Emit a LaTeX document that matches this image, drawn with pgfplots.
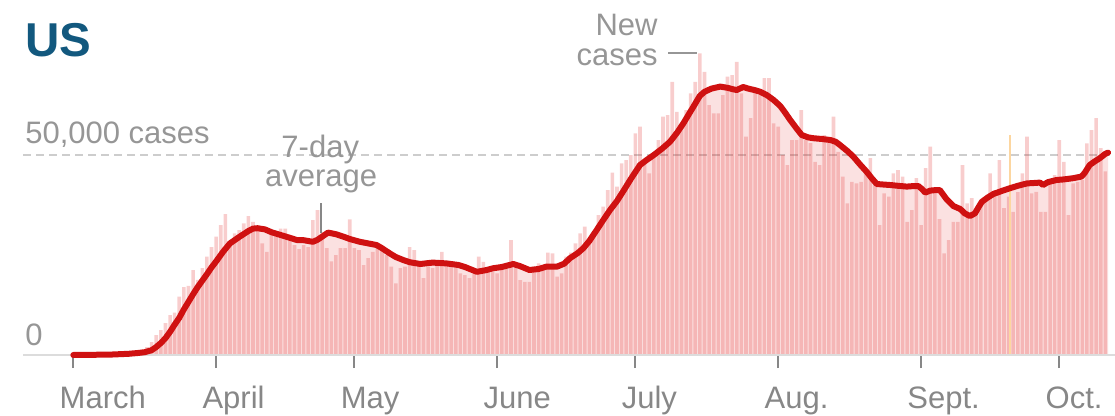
\documentclass[border=0pt]{standalone}
\usepackage{fontspec}
\setmainfont{Liberation Sans}
\usepackage{pgfplots}
\usepackage{pgfplotstable}
\pgfplotsset{compat=1.18}
\definecolor{nytred}{RGB}{207,17,17}
\definecolor{barpink}{RGB}{225,40,40}
\definecolor{txtgrey}{RGB}{150,150,150}
\definecolor{tickgrey}{RGB}{135,135,135}
\definecolor{titleblue}{RGB}{18,88,126}
\definecolor{gridgrey}{RGB}{205,205,205}
\definecolor{basegrey}{RGB}{220,220,220}
\definecolor{hilite}{RGB}{252,214,160}

% daily new cases, day 0 = March 1
\pgfplotstableread{
d cases
0 20
1 20
2 30
3 30
4 50
5 70
6 100
7 100
8 150
9 200
10 300
11 400
12 500
13 700
14 900
15 1300
16 2000
17 3200
18 5000
19 6200
20 8000
21 10000
22 10600
23 14600
24 17000
25 17300
26 21200
27 18800
28 21700
29 24600
30 27000
31 29600
32 32500
33 35200
34 27500
35 30400
36 31200
37 32900
38 34700
39 33300
40 31200
41 27900
42 25800
43 30400
44 30000
45 31600
46 31600
47 29100
48 27500
49 26500
50 27500
51 27000
52 33700
53 36200
54 30800
55 26700
56 23400
57 25000
58 26700
59 26700
60 33900
61 26700
62 26200
63 22500
64 24200
65 25800
66 27900
67 26700
68 25000
69 22100
70 17900
71 21700
72 22100
73 27000
74 26200
75 23400
76 19200
77 22100
78 21700
79 23400
80 25800
81 23400
82 22500
83 22100
84 20400
85 20000
86 19200
87 20400
88 24600
89 23300
90 21200
91 20800
92 20400
93 22100
94 21700
95 28700
96 22500
97 18700
98 18300
99 18300
100 22100
101 22900
102 22100
103 25600
104 25400
105 19600
106 20400
107 24600
108 25600
109 27900
110 30400
111 32100
112 28700
113 30400
114 35000
115 37100
116 41200
117 45600
118 42100
119 47900
120 48700
121 50000
122 55400
123 57100
124 48700
125 45400
126 50000
127 53700
128 59600
129 60000
130 68300
131 60800
132 57100
133 61200
134 65400
135 68300
136 75400
137 70800
138 62500
139 60400
140 60400
141 65000
142 69600
143 70000
144 73300
145 65400
146 54600
147 59200
148 66200
149 65000
150 69200
151 69200
152 57900
153 57100
154 50000
155 47500
156 53700
157 53700
158 61200
159 53700
160 53000
161 48300
162 47500
163 55000
164 53300
165 59600
166 50800
167 44600
168 37900
169 43300
170 42900
171 43300
172 45400
173 49200
174 43300
175 32500
176 40400
177 39600
178 45400
179 46200
180 44600
181 33300
182 36200
183 44200
184 32500
185 46700
186 52100
187 41200
188 34000
189 25400
190 28700
191 33300
192 33300
193 47500
194 37900
195 39200
196 35400
197 38700
198 39600
199 45400
200 41200
201 48700
202 36700
203 39600
204 35800
205 40700
206 45400
207 54600
208 40400
209 40800
210 35800
211 35800
212 43300
213 45000
214 53700
215 48300
216 35000
217 42900
218 43300
219 43700
220 52900
221 56200
222 59200
223 51700
224 45900
}\dailytab

% 7-day average
\pgfplotstableread{
d avg
0 0
8 100
12 300
14 500
15.5 700
17 1200
18 2000
19 3000
20 4200
21 5800
22 7600
23 9300
24 11400
25 13300
26 15200
27 17000
28 18600
29 20200
30 21900
31 23400
32.5 25800
34 27900
36 29500
38 31000
39 31600
40 31700
41.6 31400
43 30700
45 30000
47 29300
48.5 28750
50 28700
52 28300
53 28800
55.3 30600
57 30200
58.6 29600
60 29000
62.2 28300
64 27900
65.8 27500
67 26700
68.7 25400
70 24500
71.6 23750
73 23200
75.3 22750
78 23100
81 22900
83.6 22500
85 22000
87.6 20800
89.5 21200
91.2 21700
93 22000
95.5 22750
97 22200
99 21250
101 21500
102.7 22100
105 22100
106.5 22800
107.8 24200
109.5 25500
110.7 26700
112 28500
113.6 31250
115 33700
116.5 36250
118 38500
119.5 41200
121 44000
123 47500
124.5 48800
126 50000
127.8 51600
129.5 53300
131 55500
132.4 57900
133.5 60000
134.6 62100
136 64800
137 65800
138.5 66600
140.4 67100
142 66800
143.3 66400
144 66250
145.4 67000
146.5 66600
148 66200
149.1 65800
150.5 65000
152 63750
153.4 62300
154.5 60600
155.6 58750
157 56600
158.1 55000
159.5 54400
160.6 54200
162.5 54000
164.3 53750
165.5 53300
166.4 52500
168 51000
169.3 49600
170.7 47700
172.2 45800
173.3 44200
174.4 42750
176 42600
177.3 42500
179 42300
180.9 42100
182 42200
183.4 42250
184.2 41500
184.9 40600
186 41100
187.4 41250
188.1 41200
189.5 39000
191 37250
192.5 36500
193.5 35400
194.6 34750
195.7 35400
196.5 37000
197.2 38300
198.5 39400
199.7 40250
201.5 41000
203.3 41700
205 42300
207 42900
208.5 43000
209.8 43100
210.5 42500
211.5 43200
213.4 43750
215 43900
217 44200
218.8 44600
219.5 45500
220.6 47500
221.7 48400
222.8 49200
224 50300
224.6 50600
}\avgtab

\newcommand{\lbl}{\fontsize{15.5bp}{18bp}\selectfont}

\begin{document}
\begin{tikzpicture}
\useasboundingbox (0,0) rectangle (557.5bp,208bp);
\node[anchor=base west, inner sep=0, text=titleblue,
      font=\fontsize{23.75bp}{28bp}\selectfont\bfseries] at (12.5bp,179.5bp) {US};
\begin{axis}[
  at={(11.5bp,30.5bp)}, anchor=south west,
  scale only axis, width=546bp, height=160bp,
  xmin=-10.92, xmax=226.1, ymin=0, ymax=80000,
  clip=false,
  axis x line*=bottom, axis y line=none,
  x axis line style={draw=none},
  ytick=\empty,
  xtick={0,31,61,92,122,153,184,214},
  xticklabels={March,April,May,June,July,Aug.,Sept.,Oct.},
  tick align=outside, major tick length=6.5bp,
  xtick style={draw=tickgrey, line width=1bp},
  xticklabel style={font=\lbl, text=tickgrey, anchor=base west,
                    inner sep=0, xshift=-7bp, yshift=-20bp},
]
\draw[gridgrey, line width=0.75bp, dash pattern=on 4bp off 2.5bp]
  (axis cs:-10.92,50000) -- (axis cs:226.1,50000);
\addplot[draw=none, fill=barpink, fill opacity=0.14] table[x=d,y=avg]{\avgtab} \closedcycle;
\addplot[ybar, bar width=0.78, draw=none, fill=barpink, fill opacity=0.23]
  table[x=d,y=cases]{\dailytab};
\addplot[ybar, bar width=0.42, draw=none, fill=hilite] coordinates {(203.3,55000)};
\draw[basegrey, line width=1bp] (axis cs:-10.92,0) -- (axis cs:226.1,0);
\draw[tickgrey, line width=0.8bp] (axis cs:53.8,38000) -- (axis cs:53.8,30500);
\addplot[nytred, line width=3bp, line join=round, line cap=round]
  table[x=d,y=avg]{\avgtab};
\node[anchor=base west, inner sep=0, font=\lbl, text=txtgrey] at (axis cs:-10.5,53000) {50,000 cases};
\node[anchor=base west, inner sep=0, font=\lbl, text=txtgrey] at (axis cs:-10.5,2500) {0};
\node[anchor=base, inner sep=0, font=\lbl, text=txtgrey] at (axis cs:53.6,49500) {7-day};
\node[anchor=base, inner sep=0, font=\lbl, text=txtgrey] at (axis cs:53.8,42250) {average};
\node[anchor=base east, inner sep=0, font=\lbl, text=txtgrey] at (axis cs:126.9,80000) {New};
\node[anchor=base east, inner sep=0, font=\lbl, text=txtgrey] at (axis cs:126.9,72500) {cases};
\draw[txtgrey, line width=1bp] (axis cs:129.1,75500) -- (axis cs:135.4,75500);
\end{axis}
\end{tikzpicture}
\end{document}
